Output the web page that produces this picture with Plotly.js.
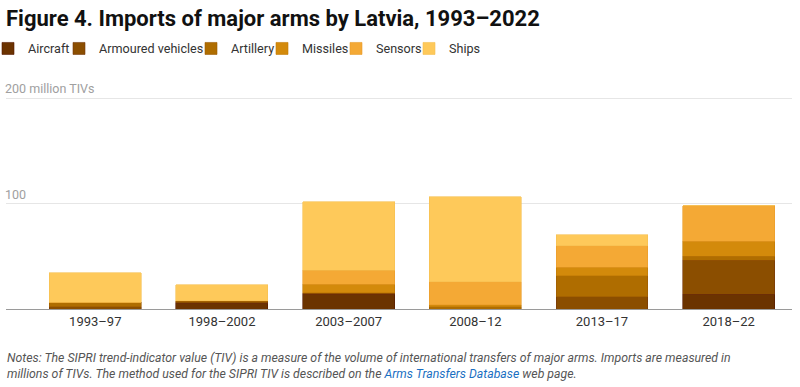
<!DOCTYPE html>
<html>
<head>
<meta charset="utf-8">
<script src="https://cdn.plot.ly/plotly-3.0.1.min.js"></script>
<style>
html,body{margin:0;padding:0;background:#fff;}
#chart{width:800px;height:387px;}
</style>
</head>
<body>
<div id="chart"></div>
<script>
// ---- data (millions of TIVs) ----
const periods = ["1993–97", "1998–2002", "2003–2007", "2008–12", "2013–17", "2018–22"];
const aircraft          = [0,   5.5, 14.2, 0,   0,    14.2];
const armouredVehicles  = [2.2, 1.5, 0.6,  0,   11.5, 31.9];
const artillery         = [4.4, 1.0, 0.6,  2.2, 19.9, 3.8];
const missiles          = [0,   0,   8.2,  2.0, 8.2,  14.2];
const sensors           = [0,   0,   13.3, 21.5, 20.3, 33.6];
const ships             = [28.0, 14.8, 64.6, 80.6, 10.3, 0];
const yTickVals  = [100, 200];
const yTickText  = ["100", "200 million TIVs"];

const seriesNames = ["Aircraft", "Armoured vehicles", "Artillery", "Missiles", "Sensors", "Ships"];
const seriesData  = [aircraft, armouredVehicles, artillery, missiles, sensors, ships];
const fillColors  = ["#6b3300", "#8b4e00", "#af6d00", "#d38a0b", "#f4a935", "#fec95a"];
const edgeColors  = ["#551800", "#76350a", "#9c5a00", "#c27a05", "#e99c2a", "#f5bf50"];
// legend entry left edges (container fraction), one legend per series
const legendX     = [0, 0.08625, 0.25125, 0.34, 0.4325, 0.52375];

const font = "Roboto, 'Noto Sans', sans-serif";
const legendIds = seriesNames.map((n, i) => i === 0 ? "legend" : "legend" + (i + 1));

const traces = seriesNames.map((name, i) => ({
  type: "bar",
  name: name,
  x: periods,
  y: seriesData[i],
  legend: legendIds[i],
  marker: {color: fillColors[i], line: {color: edgeColors[i], width: 0.6}},
  hoverinfo: "skip"
}));

// y-axis labels sit above their gridlines, at the axis values
const yLabelAnnotations = yTickVals.map((v, i) => ({
  xref: "paper", yref: "y",
  x: 0, y: v,
  xanchor: "left", yanchor: "bottom",
  xshift: -3,
  yshift: 0,
  showarrow: false,
  text: yTickText[i],
  font: {family: font, size: 12.5, color: "#a0a0a0"}
}));

const layout = {
  width: 800,
  height: 387,
  barmode: "stack",
  bargap: 0.274,
  paper_bgcolor: "#ffffff",
  plot_bgcolor: "#ffffff",
  margin: {l: 6, r: 8, t: 97.4, b: 77.7, pad: 0, autoexpand: false},
  font: {family: font, color: "#333333", size: 13},
  title: {
    text: "<b>Figure 4. Imports of major arms by Latvia, 1993–2022</b>",
    font: {family: font, size: 22, color: "#111111"},
    xref: "container", x: 0.0075, xanchor: "left",
    yref: "container", y: 0.953, yanchor: "middle"
  },
  showlegend: true,
  xaxis: {
    type: "category",
    range: [-0.705, 5.5],
    showgrid: false,
    showline: true,
    linecolor: "#9a9a9a",
    linewidth: 1,
    ticks: "",
    tickfont: {family: font, size: 13, color: "#333333"},
    fixedrange: true,
    automargin: false
  },
  yaxis: {
    range: [0, 201],
    tickvals: yTickVals,
    showticklabels: false,
    showgrid: true,
    gridcolor: "#e6e6e6",
    gridwidth: 1,
    zeroline: false,
    showline: false,
    ticks: "",
    fixedrange: true,
    automargin: false
  },
  annotations: yLabelAnnotations.concat([{
    xref: "paper", yref: "paper",
    x: 0, y: -0.269,
    xanchor: "left", yanchor: "middle",
    xshift: -1,
    align: "left",
    showarrow: false,
    font: {family: font, size: 12.3, color: "#555555"},
    text: "<i>Notes: The SIPRI trend-indicator value (TIV) is a measure of the volume of international transfers of major arms. Imports are measured in<br>millions of TIVs. The method used for the SIPRI TIV is described on the <span style=\"color:#1a6fc2\">Arms Transfers Database</span> web page.</i>"
  }])
};

legendIds.forEach((id, i) => {
  layout[id] = {
    orientation: "h",
    xref: "container", x: legendX[i], xanchor: "left",
    yref: "container", y: 0.874, yanchor: "middle",
    font: {family: font, size: 12.6, color: "#333333"},
    itemwidth: 30,
    indentation: i === 0 ? -12 : -10,
    itemclick: false,
    bgcolor: "rgba(0,0,0,0)"
  };
});

Plotly.newPlot("chart", traces, layout, {displayModeBar: false, staticPlot: true});
</script>
</body>
</html>
